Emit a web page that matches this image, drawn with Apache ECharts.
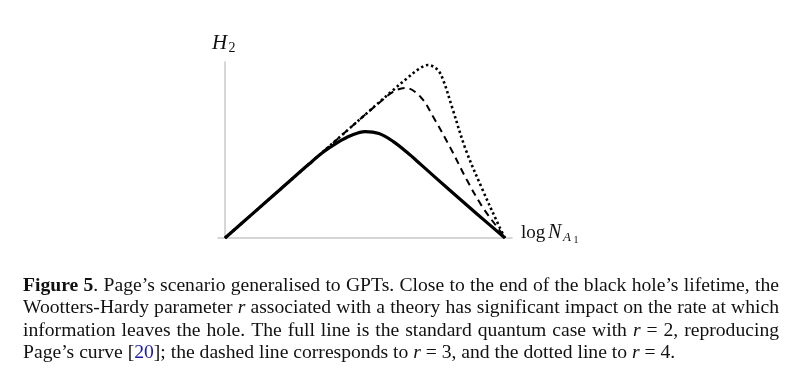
<!DOCTYPE html>
<html><head><meta charset="utf-8">
<script src="https://cdn.jsdelivr.net/npm/echarts@6/dist/echarts.min.js"></script>
<style>html,body{margin:0;padding:0;background:#fff}#c{width:800px;height:386px}</style>
</head><body><div id="c"></div>
<script>
// r = 2 (full line, standard quantum case)
const solidX = [0, 1, 2, 3, 3.5, 4, 4.5, 5, 5.5, 6, 6.5, 7, 8, 9, 10];
const solidY = [0, 0.88, 1.76, 2.64, 3.06, 3.40, 3.66, 3.80, 3.73, 3.45, 3.06, 2.62, 1.73, 0.86, 0];
// r = 3 (dashed line)
const dashedX = [0, 1, 2, 3, 4, 5, 5.5, 6, 6.45, 7, 7.45, 8.05, 8.65, 9.2, 9.8, 10];
const dashedY = [0, 0.88, 1.76, 2.64, 3.52, 4.40, 4.82, 5.22, 5.36, 5.02, 4.30, 3.22, 2.05, 1.10, 0.28, 0];
// r = 4 (dotted line)
const dottedX = [0, 1, 2, 3, 4, 5, 6, 6.5, 6.9, 7.25, 7.6, 7.8, 8.1, 8.6, 9.2, 9.8, 10];
const dottedY = [0, 0.88, 1.76, 2.64, 3.52, 4.40, 5.28, 5.70, 6.02, 6.18, 6.00, 5.62, 4.70, 3.15, 1.72, 0.40, 0];

const yAxisLabel = ['H', '2'];
const xAxisLabel = ['log', 'N', 'A', '1'];

// caption: '*' toggles bold, '_' toggles italic, '~' toggles link colour
const captionLines = [
  '*Figure* *5*. Page’s scenario generalised to GPTs. Close to the end of the black hole’s lifetime, the',
  'Wootters-Hardy parameter _r_ associated with a theory has significant impact on the rate at which',
  'information leaves the hole. The full line is the standard quantum case with _r_ = 2, reproducing',
  'Page’s curve [~20~]; the dashed line corresponds to _r_ = 3, and the dotted line to _r_ = 4.'
];

const zip = (a, b) => a.map((v, i) => [v, b[i]]);
const SERIF = '"Liberation Serif", "DejaVu Serif", serif';

// ---- caption layout (justified) ----
const cv = document.createElement('canvas').getContext('2d');
function fontStr(st, size) {
  return (st.i ? 'italic ' : '') + (st.b ? 'bold ' : '') + size + 'px ' + SERIF;
}
function parseWord(w) {
  const segs = []; let st = {b: false, i: false, c: false}; let buf = '';
  for (const ch of w) {
    if (ch === '*' || ch === '_' || ch === '~') {
      if (buf) { segs.push({t: buf, st: Object.assign({}, st)}); buf = ''; }
      if (ch === '*') st.b = !st.b; else if (ch === '_') st.i = !st.i; else st.c = !st.c;
    } else buf += ch;
  }
  if (buf) segs.push({t: buf, st: Object.assign({}, st)});
  return segs;
}
function wordWidth(segs, size) {
  let w = 0;
  for (const s of segs) { cv.font = fontStr(s.st, size); w += cv.measureText(s.t).width; }
  return w;
}
const lineLeft = 23, lineRight = 779, lastRight = 676;
const baselines = [292, 314.5, 337, 359.5];
const parsed = captionLines.map(l => l.split(' ').map(parseWord));
function naturalWidth(words, size) {
  cv.font = fontStr({}, size);
  const sp = cv.measureText(' ').width;
  return words.reduce((a, w) => a + wordWidth(w, size), 0) + sp * (words.length - 1);
}
let capSize = 17 * (lastRight - lineLeft) / naturalWidth(parsed[3], 17);
for (let k = 0; k < 3; k++) {
  const nw = naturalWidth(parsed[k], capSize);
  if (nw > lineRight - lineLeft) capSize *= (lineRight - lineLeft) / nw;
}
const captionGraphics = [];
parsed.forEach((words, k) => {
  const widths = words.map(w => wordWidth(w, capSize));
  const total = widths.reduce((a, b) => a + b, 0);
  cv.font = fontStr({}, capSize);
  const sp = cv.measureText(' ').width;
  const gap = k < 3 ? (lineRight - lineLeft - total) / (words.length - 1) : sp;
  let x = lineLeft;
  words.forEach((segs) => {
    for (const s of segs) {
      cv.font = fontStr(s.st, capSize);
      captionGraphics.push({
        type: 'text', x: x, y: baselines[k] - capSize * 0.33,
        style: {text: s.t, font: fontStr(s.st, capSize), fill: s.st.c ? '#1a1ab0' : '#111',
                verticalAlign: 'middle', align: 'left'}
      });
      x += cv.measureText(s.t).width;
    }
    x += gap;
  });
});

function lbl(text, x, baseline, size, italic) {
  return {type: 'text', x: x, y: baseline - size * 0.33,
    style: {text: text, font: (italic ? 'italic ' : '') + size + 'px ' + SERIF, fill: '#111',
            verticalAlign: 'middle', align: 'left'}};
}

const chart = echarts.init(document.getElementById('c'), null, {renderer: 'canvas'});
chart.setOption({
  backgroundColor: '#fff',
  animation: false,
  grid: {left: 218, top: 62, width: 294, height: 176},
  xAxis: {type: 'value', min: -0.25, max: 10.25,
    axisLine: {onZero: true, lineStyle: {color: '#c8c8c8', width: 1.5}},
    axisTick: {show: false}, axisLabel: {show: false}, splitLine: {show: false}},
  yAxis: {type: 'value', min: 0, max: 176 / 28,
    axisLine: {show: true, onZero: true, lineStyle: {color: '#c8c8c8', width: 1.5}},
    axisTick: {show: false}, axisLabel: {show: false}, splitLine: {show: false}},
  series: [
    {type: 'line', name: 'r=4', data: zip(dottedX, dottedY), smooth: 0.35, symbol: 'none',
     lineStyle: {color: '#000', width: 2.6, type: [2.4, 2.8], cap: 'butt'}, z: 2},
    {type: 'line', name: 'r=3', data: zip(dashedX, dashedY), smooth: 0.35, symbol: 'none',
     lineStyle: {color: '#000', width: 2, type: [7, 5]}, z: 3},
    {type: 'line', name: 'r=2', data: zip(solidX, solidY), smooth: 0.35, symbol: 'none',
     lineStyle: {color: '#000', width: 3.2}, z: 4}
  ],
  graphic: [
    lbl(yAxisLabel[0], 212, 50, 21, true),
    lbl(yAxisLabel[1], 228.5, 53, 14, false),
    lbl(xAxisLabel[0], 521, 239, 19, false),
    lbl(xAxisLabel[1], 548, 239, 20, true),
    lbl(xAxisLabel[2], 563, 242, 13, true),
    lbl(xAxisLabel[3], 573.5, 244, 10, false)
  ].concat(captionGraphics)
});
</script>
</body></html>
